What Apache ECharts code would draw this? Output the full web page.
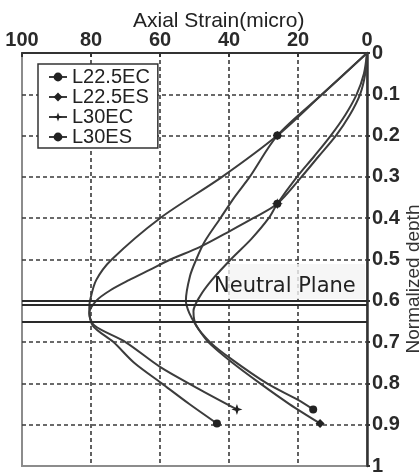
<!DOCTYPE html>
<html>
<head>
<meta charset="utf-8">
<script src="https://cdn.jsdelivr.net/npm/echarts@6/dist/echarts.min.js"></script>
<style>
    html, body { margin: 0; padding: 0; background: #fff; }
    #chart { width: 419px; height: 476px; }
</style>
</head>
<body>
<div id="chart"></div>
<script>
// strain (micro) vs normalized depth
const seriesNames = ['L22.5EC', 'L22.5ES', 'L30EC', 'L30ES'];

const l225ecDepth = [0, 0.1, 0.2, 0.3, 0.4, 0.5, 0.55, 0.6, 0.62, 0.66, 0.7, 0.75, 0.8, 0.85, 0.897];
const l225ecStrain = [0, 13, 26, 42, 60, 74, 78.5, 80.3, 80.5, 79.5, 73.5, 67.5, 59.5, 51.5, 43.5];

const l225esDepth = [0, 0.1, 0.2, 0.3, 0.35, 0.4, 0.456, 0.5, 0.54, 0.6, 0.63, 0.66, 0.7, 0.75, 0.8, 0.85, 0.897];
const l225esStrain = [0, 13, 26, 34, 38.5, 42.5, 47, 49.5, 51.3, 52.5, 51.5, 49.5, 46, 39, 31, 22.5, 13.6];

const l30ecDepth = [0, 0.05, 0.1, 0.15, 0.2, 0.25, 0.3, 0.365, 0.4, 0.43, 0.47, 0.5, 0.525, 0.55, 0.575, 0.6, 0.63, 0.66, 0.7, 0.76, 0.81, 0.863];
const l30ecStrain = [0, 0.5, 2, 5, 9, 14, 19, 26, 33, 39.5, 48.5, 57, 63, 69, 74.5, 78.5, 80.5, 79, 70, 60, 49.5, 37.7];

const l30esDepth = [0, 0.05, 0.1, 0.15, 0.2, 0.25, 0.3, 0.365, 0.4, 0.45, 0.5, 0.55, 0.59, 0.625, 0.66, 0.7, 0.74, 0.8, 0.84, 0.863];
const l30esStrain = [0, 0.9, 3, 6.3, 10.5, 15.3, 20.3, 26, 28.5, 33.5, 39.5, 45, 48.5, 50.3, 49.5, 45.5, 39.5, 29, 20, 15.6];

// depths where the gauges are marked
const l225Marks = [0.2, 0.897];
const l30Marks = [0.365, 0.863];

const neutralDepths = [0.597, 0.615, 0.645];

const FONT = '"Liberation Sans", Arial, sans-serif';
const INK = '#3c3c3c';

function pts(depth, strain, marks, size) {
    return depth.map((d, i) => ({
        value: [strain[i], d],
        symbolSize: marks.indexOf(d) >= 0 ? size : 0
    }));
}

function line(name, data, symbol, size) {
    return {
        name: name,
        type: 'line',
        data: data,
        symbol: symbol,
        symbolSize: size,
        showAllSymbol: true,
        smooth: 0.3,
        lineStyle: {color: INK, width: 2},
        itemStyle: {color: '#222'}
    };
}

const STAR = 'path://M5,0 L6.3,3.7 L10,5 L6.3,6.3 L5,10 L3.7,6.3 L0,5 L3.7,3.7 Z';

const chart = echarts.init(document.getElementById('chart'));

const series = [
    line(seriesNames[0], pts(l225ecDepth, l225ecStrain, l225Marks, 8), 'circle', 8),
    line(seriesNames[1], pts(l225esDepth, l225esStrain, l225Marks, 9), 'diamond', 9),
    line(seriesNames[2], pts(l30ecDepth, l30ecStrain, l30Marks, 11), STAR, 11),
    line(seriesNames[3], pts(l30esDepth, l30esStrain, l30Marks, 8), 'circle', 8)
];

series[0].markLine = {
    silent: true,
    symbol: 'none',
    label: {show: false},
    lineStyle: {color: '#2a2a2a', width: 2, type: 'solid'},
    data: neutralDepths.map(d => ({yAxis: d}))
};

const dashed = {show: true, showMinLine: false, showMaxLine: false, lineStyle: {color: '#3a3a3a', width: 1.6, type: [4, 3]}};

chart.setOption({
    animation: false,
    backgroundColor: '#fff',
    title: {
        text: 'Axial Strain(micro)',
        left: 128,
        top: 6,
        textStyle: {fontFamily: FONT, fontSize: 21, fontWeight: 'normal', color: '#222'}
    },
    legend: {
        data: seriesNames,
        orient: 'vertical',
        left: 38,
        top: 64,
        padding: [3, 8, 1, 10],
        itemGap: 0,
        itemWidth: 18,
        itemHeight: 11,
        borderColor: '#333',
        borderWidth: 1.5,
        backgroundColor: '#fff',
        textStyle: {fontFamily: FONT, fontSize: 20, color: '#222', lineHeight: 20}
    },
    grid: {
        left: 22, right: 52, top: 53, bottom: 7,
        show: true, borderColor: '#8c8c8c', borderWidth: 2
    },
    xAxis: {
        type: 'value',
        position: 'top',
        inverse: true,
        min: 0, max: 100, interval: 20,
        axisLine: {show: true, onZero: false, lineStyle: {color: '#333', width: 2}},
        axisTick: {show: true, inside: true, length: 4, lineStyle: {color: '#333', width: 2}},
        axisLabel: {fontFamily: FONT, fontSize: 20, fontWeight: 'bold', color: '#2a2a2a', margin: 3},
        splitLine: dashed
    },
    yAxis: {
        type: 'value',
        position: 'right',
        inverse: true,
        min: 0, max: 1, interval: 0.1,
        axisLine: {show: true, onZero: false, lineStyle: {color: '#333', width: 2.5}},
        axisTick: {show: true, length: 3, lineStyle: {color: '#333', width: 2}},
        axisLabel: {fontFamily: FONT, fontSize: 20, fontWeight: 'bold', color: '#2a2a2a', margin: 5, padding: [8, 0, 0, 0]},
        splitLine: dashed
    },
    graphic: [
        {
            type: 'rect',
            shape: {x: 228, y: 264, width: 137, height: 35},
            style: {fill: 'rgba(244,244,244,0.8)'},
            z: 5
        },
        {
            type: 'text',
            x: 214, y: 287,
            style: {text: 'Neutral Plane', font: '21px "DejaVu Sans", sans-serif', fill: '#222', verticalAlign: 'middle'},
            z: 6
        },
        {
            type: 'text',
            x: 414, y: 279,
            rotation: Math.PI / 2,
            style: {text: 'Normalized depth', font: '19px ' + FONT, fill: '#333', align: 'center', verticalAlign: 'middle'},
            z: 6
        }
    ],
    series: series
});
</script>
</body>
</html>
